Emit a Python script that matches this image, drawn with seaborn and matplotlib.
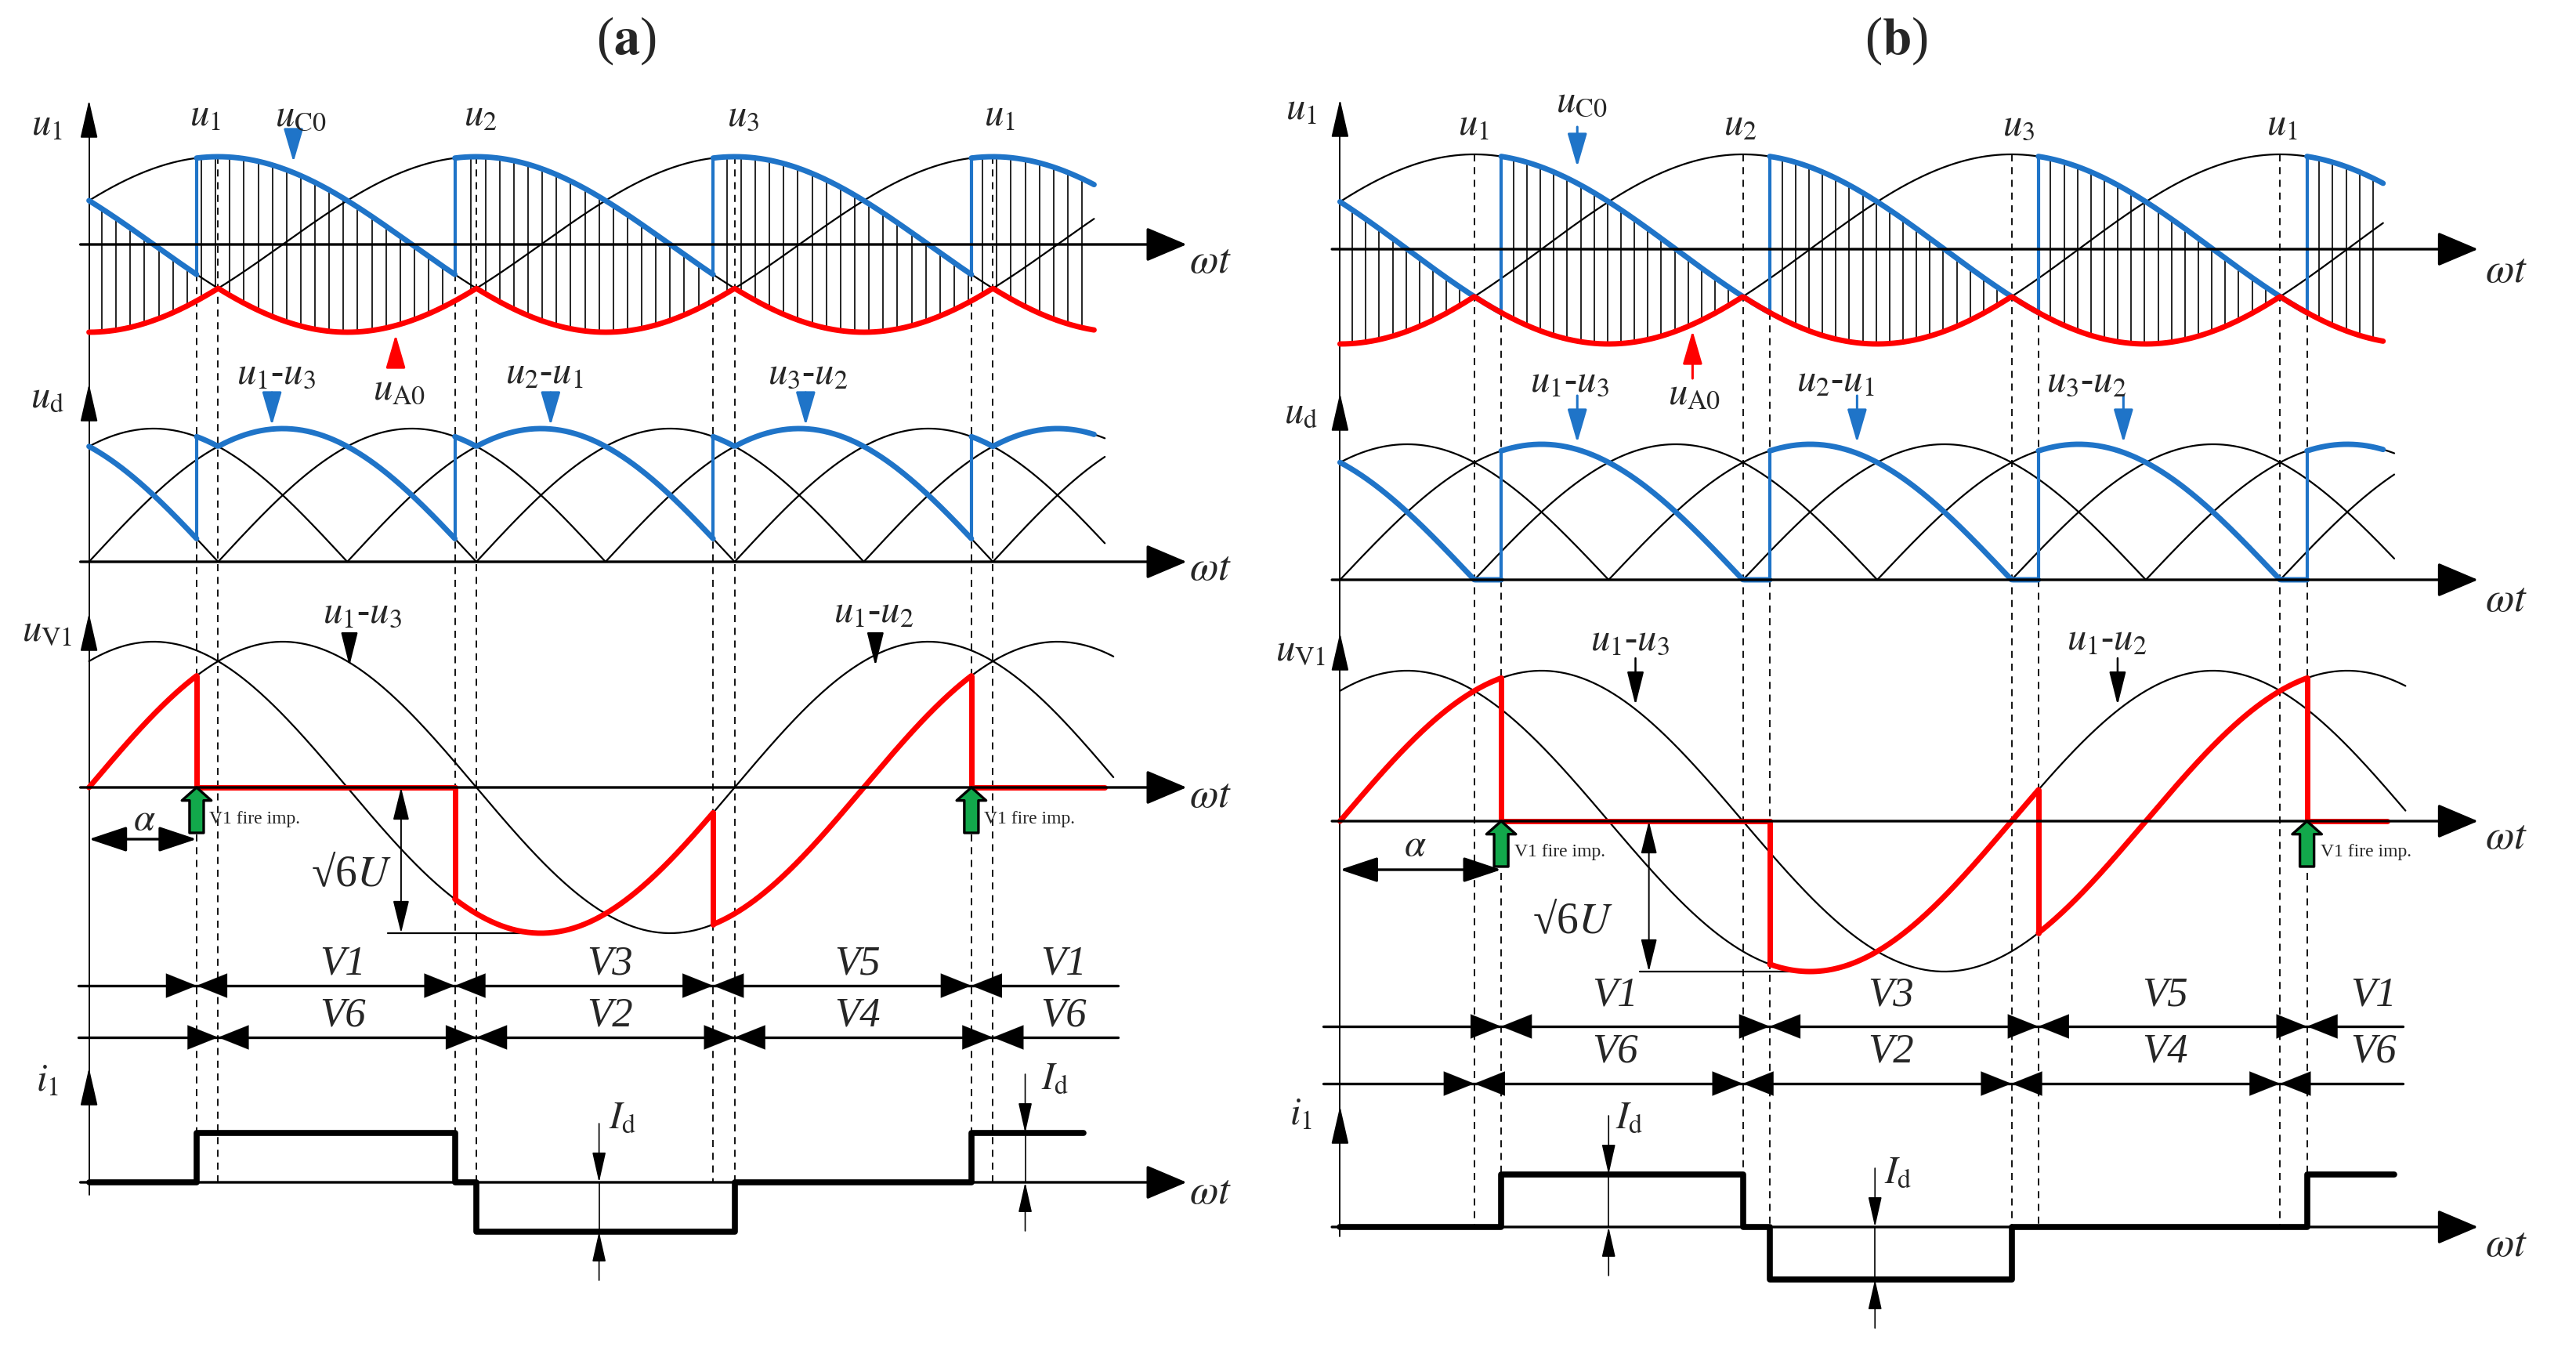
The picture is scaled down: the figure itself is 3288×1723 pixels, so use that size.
import numpy as np
import pandas as pd
import seaborn as sns
import matplotlib.pyplot as plt

sns.set_theme(style="white")
plt.rcParams["font.family"] = ["Liberation Serif", "DejaVu Serif"]
plt.rcParams["mathtext.fontset"] = "stix"

# values (angles in degrees of wt, 0 = vertical axis)
panel_names = ["a", "b"]
fire_deg = [50, 72]                      # first V1 firing pulse
natural_deg = [60, 180, 300, 420]        # natural commutation points
phase_shift = [30, -90, 150]             # u1, u2, u3 = sin(wt + shift)
phase_labels = [r"$u_{1}$", r"$u_{2}$", r"$u_{3}$", r"$u_{1}$"]
ud_labels = [r"$u_{1}$-$u_{3}$", r"$u_{2}$-$u_{1}$", r"$u_{3}$-$u_{2}$"]
uv_labels = [r"$u_{1}$-$u_{3}$", r"$u_{1}$-$u_{2}$"]
upper_valves = ["V1", "V3", "V5", "V1"]
lower_valves = ["V6", "V2", "V4", "V6"]
u1_end = [467, 466]
arc_end = [472, 471]
uv_end = [476, 476]
uv_red_end = [472, 468]
i1_edges = [[0, 50, 170, 180, 300, 410, 462], [0, 72, 180, 192, 300, 432, 471]]
i1_levels = [[0, 1, 0, -1, 0, 1], [0, 1, 0, -1, 0, 1]]

BLUE = "#1f74c8"
RED = "#ff0000"
GREEN = "#12a84b"

# page layout (pixel rows / columns of each panel)
layout = [
    dict(px0=0, x0=113.6, sx=2.747, u1=(312, 112), ud=(717, 170), uv=(1005, 186),
         rows=(1258, 1324), i1=(1509, 63), hatch=(6.0, 6.6), title_th=249.5,
         axis_top=dict(u1=128, ud=490, uv=783, i1=1363), axis_bot=1525, ax_start=-4, ax_tip=510,
         row_span=(-5, 478), ylab_th=-19.5, ylab_y=(160, 507, 805, 1380),
         ph_th=[54, 182, 304, 423], ph_y=148,
         uc0=(98.4, 148, 95, 168, 207), ua0=(142.5, 467, 427, 144.3, 497),
         udl_th=[87, 211.5, 334], udl_y=477, uda_th=[85, 214.5, 333], uda_y=(501, 543),
         uvl_th=[127, 364.5], uvl_y=782, uva_th=[121, 365.4], uva_y=(812, 850),
         alpha_y=1071, alpha_lab=(25.6, 1047), sq_th=145, sq_line=(138.8, 203.6), sq_lab=(122, 1117),
         rowl_th=[118, 242, 357, 453], rowl_y=(1231, 1296),
         id_th=[(237, 0, -1), (435, 1, 0)], id_lab=[(248, 1427), (449, 1377)],
         wt_y=(335, 727, 1017, 1523), wt_th=521),
    dict(px0=1644, x0=1710.4, sx=2.857, u1=(318, 121), ud=(740, 173), uv=(1048, 192),
         rows=(1310, 1383), i1=(1566, 67), hatch=(5.5, 6.0), title_th=248.4,
         axis_top=dict(u1=127, ud=502, uv=808, i1=1412), axis_bot=1578, ax_start=-3.6, ax_tip=508.4,
         row_span=(-7.5, 475), ylab_th=-17.5, ylab_y=(140, 527, 830, 1423),
         ph_th=[59.6, 178.7, 303.3, 420.8], ph_y=160,
         uc0=(108, 130, 106, 162, 213), ua0=(157.5, 483, 422, 158.2, 503),
         udl_th=[102.4, 221.4, 333.3], udl_y=487, uda_th=[106, 231, 350], uda_y=(505, 565),
         uvl_th=[129.4, 342.6], uvl_y=817, uva_th=[132, 347.4], uva_y=(840, 900),
         alpha_y=1110, alpha_lab=(33.5, 1080), sq_th=138, sq_line=(134, 214), sq_lab=(104, 1177),
         rowl_th=[123, 246, 368.6, 461.7], rowl_y=(1271, 1343),
         id_th=[(120, 1, 0), (239, 0, -1)], id_lab=[(129.4, 1427), (249.4, 1497)],
         wt_y=(347, 767, 1070, 1590), wt_th=521),
]

W, H = 3288, 1723
fig = plt.figure(figsize=(W / 100, H / 100), dpi=100)


def ph(k, th):
    return np.sin(np.radians(np.asarray(th, float) + phase_shift[k]))


def upper_phase(th, f):
    return int(np.floor((th - f) / 120.0)) % 3


def cuts_for(f, end):
    return [0.0] + [f + 120 * k for k in range(5) if 0 < f + 120 * k < end] + [float(end)]


def u_c0(th, f):
    th = np.asarray(th, float)
    return np.array([ph(upper_phase(t, f), t) for t in th])


def u_a0(th):
    return np.min([ph(0, th), ph(1, th), ph(2, th)], axis=0)


def line_df(pieces):
    frames = [pd.DataFrame({"theta": x, "y": y, "seg": i}) for i, (x, y) in enumerate(pieces)]
    return pd.concat(frames, ignore_index=True)


def draw_lines(ax, pieces, color, lw, z=3):
    df = line_df(pieces)
    sns.lineplot(data=df, x="theta", y="y", units="seg", estimator=None, sort=False,
                 color=color, linewidth=lw, ax=ax, legend=False, zorder=z)


def arrow(ax, xy, xytext, color="black", lw=1.5, hl=0.9, hw=0.3, ms=25, style="-|>", z=6):
    ax.annotate("", xy=xy, xytext=xytext, zorder=z,
                arrowprops=dict(arrowstyle=f"{style},head_length={hl},head_width={hw}",
                                color=color, lw=lw, mutation_scale=ms, shrinkA=0, shrinkB=0))


def draw_panel(p):
    L = layout[p]
    f = fire_deg[p]
    ax = fig.add_axes([L["px0"] / W, 0, 1644 / W, 1])

    def Y(strip, v):
        base, amp = L[strip]
        return base - amp * np.asarray(v, float)

    lab = dict(fontsize=35, ha="center", va="center", zorder=8)

    # ---------- u1 strip ----------
    end = u1_end[p]
    th = np.linspace(0, end, 600)
    draw_lines(ax, [(th, Y("u1", ph(k, th))) for k in range(3)], "black", 1.6, z=3)
    cuts = cuts_for(f, end)
    hs, hstep = L["hatch"]
    th_h = np.arange(hs, end, hstep)
    th_h = th_h[np.min(np.abs(th_h[:, None] - np.array(cuts)[None, :]), axis=1) > 1.0]
    ax.vlines(th_h, Y("u1", u_c0(th_h, f)), Y("u1", u_a0(th_h)), color="black", lw=1.2, zorder=2)
    blue, jumps = [], []
    for a, b in zip(cuts[:-1], cuts[1:]):
        k = upper_phase((a + b) / 2, f)
        t = np.linspace(a, b, 150)
        blue.append((t, Y("u1", ph(k, t))))
    for c in cuts[1:-1]:
        k0, k1 = upper_phase(c - 1, f), upper_phase(c + 1, f)
        jumps.append(([c, c], Y("u1", [ph(k0, c), ph(k1, c)])))
    draw_lines(ax, blue, BLUE, 5, z=5)
    draw_lines(ax, jumps, BLUE, 3, z=5)
    draw_lines(ax, [(th, Y("u1", u_a0(th)))], RED, 5, z=5)

    # dashed guide lines
    i1_base = L["i1"][0]
    for c in cuts[1:-1]:
        k0 = upper_phase(c - 1, f)
        ax.vlines(c, Y("u1", ph(k0, c)), i1_base, color="black", lw=1.3,
                  linestyles=(0, (5, 4)), zorder=2)
    for n in natural_deg:
        ax.vlines(n, Y("u1", 1.0), i1_base, color="black", lw=1.3,
                  linestyles=(0, (5, 4)), zorder=2)

    # ---------- ud strip ----------
    arcs = []
    for j in range(-2, 9):
        a, b = max(60 * j, 0), min(60 * j + 180, arc_end[p])
        if b > a:
            t = np.linspace(a, b, 200)
            arcs.append((t, Y("ud", np.sin(np.radians(t - 60 * j)))))
    draw_lines(ax, arcs, "black", 1.6, z=3)
    udb, udj = [], []
    for a, b in zip(cuts[:-1], cuts[1:]):
        k = upper_phase((a + b) / 2, f)
        t = np.linspace(a, b, 150)
        udb.append((t, Y("ud", (ph(k, t) - u_a0(t)) / np.sqrt(3))))
    for c in cuts[1:-1]:
        k0, k1 = upper_phase(c - 1, f), upper_phase(c + 1, f)
        ua = u_a0(np.array([c]))[0]
        udj.append(([c, c], Y("ud", [(ph(k0, c) - ua) / np.sqrt(3), (ph(k1, c) - ua) / np.sqrt(3)])))
    draw_lines(ax, udb, BLUE, 5, z=5)
    draw_lines(ax, udj, BLUE, 3, z=5)

    # ---------- uV1 strip ----------
    t = np.linspace(0, uv_end[p], 600)
    draw_lines(ax, [(t, Y("uv", np.sin(np.radians(t + 60)))), (t, Y("uv", np.sin(np.radians(t))))],
               "black", 1.6, z=3)
    rc = cuts_for(f, uv_red_end[p])
    red, redj = [], []
    for a, b in zip(rc[:-1], rc[1:]):
        k = upper_phase((a + b) / 2, f)
        tt = np.linspace(a, b, 150)
        red.append((tt, Y("uv", (ph(0, tt) - ph(k, tt)) / np.sqrt(3))))
    for c in rc[1:-1]:
        k0, k1 = upper_phase(c - 1, f), upper_phase(c + 1, f)
        redj.append(([c, c], Y("uv", [(ph(0, c) - ph(k0, c)) / np.sqrt(3),
                                      (ph(0, c) - ph(k1, c)) / np.sqrt(3)])))
    draw_lines(ax, red + redj, RED, 5, z=5)

    # firing pulses
    uvb = L["uv"][0]
    for c in [f, f + 360]:
        ax.annotate("", xy=(c, uvb), xytext=(c, uvb + 58), zorder=7,
                    arrowprops=dict(arrowstyle="simple,head_length=1.2,head_width=2.7,tail_width=1.3",
                                    fc=GREEN, ec="black", lw=2.4, mutation_scale=10,
                                    shrinkA=0, shrinkB=0))
        ax.text(c + 6, uvb + 40, "V1 fire imp.", fontsize=17, ha="left", va="center", zorder=8)

    # alpha and sqrt(6)U dimensions
    arrow(ax, (0, L["alpha_y"]), (f, L["alpha_y"]), lw=2.4, hl=1.5, hw=0.5, ms=20, style="<|-|>")
    ax.text(*L["alpha_lab"], r"$\alpha$", **lab)
    amp_bot = Y("uv", -1.0)
    arrow(ax, (L["sq_th"], uvb), (L["sq_th"], amp_bot), lw=1.4, hl=1.3, hw=0.32, ms=20, style="<|-|>")
    ax.plot(L["sq_line"], [amp_bot, amp_bot], color="black", lw=1.6, zorder=4)
    ax.text(*L["sq_lab"], "√6" + r"$U$", fontsize=40, ha="center", va="center", zorder=8)

    # ---------- conduction table ----------
    for r, (yrow, bounds, names) in enumerate(zip(L["rows"], [cuts_for(f, 470)[1:-1], natural_deg],
                                                   [upper_valves, lower_valves])):
        ax.plot(L["row_span"], [yrow, yrow], color="black", lw=2.4, zorder=4)
        for b in bounds:
            arrow(ax, (b, yrow), (b - 11, yrow), lw=0.1, hl=1.0, hw=0.4, ms=28)
            arrow(ax, (b, yrow), (b + 11, yrow), lw=0.1, hl=1.0, hw=0.4, ms=28)
        for th_l, name in zip(L["rowl_th"], names):
            ax.text(th_l, L["rowl_y"][r], name, fontsize=38, style="italic", ha="center",
                    va="center", zorder=8)

    # ---------- i1 strip ----------
    e, lv = i1_edges[p], i1_levels[p]
    xs, ys = [], []
    for i, l in enumerate(lv):
        xs += [e[i], e[i + 1]]
        ys += [l, l]
    draw_lines(ax, [(np.array(xs, float), Y("i1", ys))], "black", 5.5, z=5)
    for (th_i, hi, lo), pos in zip(L["id_th"], L["id_lab"]):
        y_hi, y_lo = Y("i1", hi), Y("i1", lo)
        ax.plot([th_i, th_i], [y_hi, y_lo], color="black", lw=1.2, zorder=6)
        arrow(ax, (th_i, y_hi), (th_i, y_hi - 75), lw=1.2, hl=1.2, hw=0.27, ms=20)
        arrow(ax, (th_i, y_lo), (th_i, y_lo + 62), lw=1.2, hl=1.2, hw=0.27, ms=20)
        ax.text(*pos, r"$I_{\mathrm{d}}$", **lab)

    # ---------- axes ----------
    ax.plot([0, 0], [L["axis_top"]["u1"] + 10, L["axis_bot"]], color="black", lw=1.3, zorder=4)
    ylabs = [r"$u_{1}$", r"$u_{\mathrm{d}}$", r"$u_{\mathrm{V1}}$", r"$i_{1}$"]
    for key, yl, yy, wy in zip(["u1", "ud", "uv", "i1"], ylabs, L["ylab_y"], L["wt_y"]):
        top = L["axis_top"][key]
        arrow(ax, (0, top), (0, top + 45), lw=1.3, hl=1.4, hw=0.32, ms=22)
        base = L[key][0]
        arrow(ax, (L["ax_tip"], base), (L["ax_start"], base), lw=2.4, hl=1.3, hw=0.55, ms=25)
        ax.text(L["ylab_th"], yy, yl, **lab)
        ax.text(L["wt_th"], wy, r"$\omega t$", fontsize=38, ha="center", va="center", zorder=8)

    # ---------- labels ----------
    for th_l, s in zip(L["ph_th"], phase_labels):
        ax.text(th_l, L["ph_y"], s, **lab)
    lx, ly, axx, ay0, ay1 = L["uc0"]
    ax.text(lx, ly, r"$u_{\mathrm{C0}}$", **lab)
    arrow(ax, (axx, ay1), (axx, ay0), color=BLUE, lw=2.2, hl=1.2, hw=0.35, ms=22)
    axx, ay0, ay1, lx, ly = L["ua0"]
    arrow(ax, (axx, ay1), (axx, ay0), color=RED, lw=2.2, hl=1.2, hw=0.35, ms=22)
    ax.text(lx, ly, r"$u_{\mathrm{A0}}$", **lab)
    for th_l, th_a, s in zip(L["udl_th"], L["uda_th"], ud_labels):
        ax.text(th_l, L["udl_y"], s, **lab)
        arrow(ax, (th_a, L["uda_y"][1]), (th_a, L["uda_y"][0]), color=BLUE, lw=2.2,
              hl=1.2, hw=0.35, ms=22)
    for th_l, th_a, s in zip(L["uvl_th"], L["uva_th"], uv_labels):
        ax.text(th_l, L["uvl_y"], s, **lab)
        arrow(ax, (th_a, L["uva_y"][1]), (th_a, L["uva_y"][0]), lw=1.8, hl=1.2, hw=0.3, ms=22)

    ax.text(L["title_th"], 52, "(" + r"$\mathbf{" + panel_names[p] + r"}$" + ")",
            fontsize=48, ha="center", va="center")

    ax.set_xlim((L["px0"] - L["x0"]) / L["sx"], (L["px0"] + 1644 - L["x0"]) / L["sx"])
    ax.set_ylim(H, 0)
    ax.axis("off")


for p in range(2):
    draw_panel(p)

fig.savefig("out.png", dpi=100, facecolor="white")
